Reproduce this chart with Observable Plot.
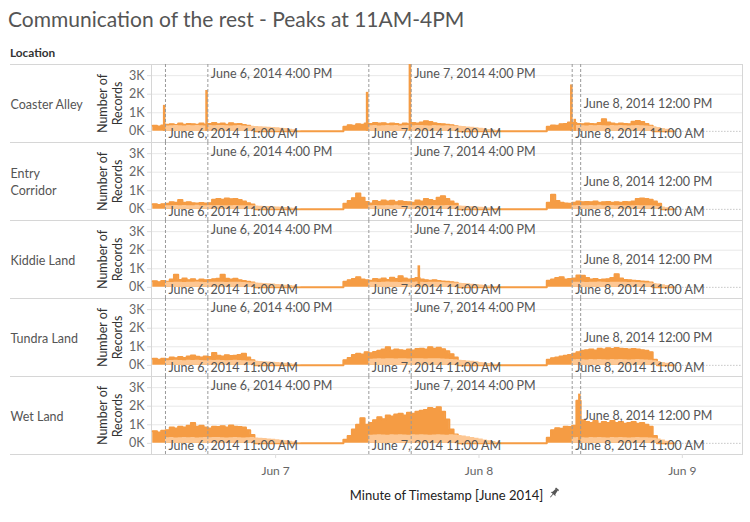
<!DOCTYPE html>
<html><head><meta charset="utf-8">
<script src="https://cdn.jsdelivr.net/npm/d3@7"></script>
<script src="https://cdn.jsdelivr.net/npm/@observablehq/plot@0.6"></script>
<style>
body{margin:0;background:#fff;font-family:Lato,"Open Sans",sans-serif;}
#wrap{position:relative;width:750px;height:522px;overflow:hidden;background:#fff}
.title{position:absolute;left:8px;top:8px;font-size:21px;line-height:1;color:#555;white-space:nowrap}
.hdr{position:absolute;left:10px;top:47px;font-size:11.8px;line-height:1;font-weight:bold;color:#333}
#chart{position:absolute;left:0;top:62px}
.xt{position:absolute;left:151px;width:591px;top:489px;text-align:center;font-size:13px;line-height:1;color:#222}
.xt span{position:relative}
.pin{position:absolute;right:-17px;top:0px}
</style></head>
<body><div id="wrap">
<div class="title">Communication of the rest - Peaks at 11AM-4PM</div>
<div class="hdr">Location</div>
<div id="chart"></div>
<div class="xt"><span>Minute of Timestamp [June 2014]<svg class="pin" width="12" height="12" viewBox="0 0 12 12"><g transform="rotate(40 6 6)" fill="#555"><rect x="4" y="0.5" width="4" height="1.5"/><path d="M4.6 2 L7.4 2 L7.8 6 L9.2 7.4 L2.8 7.4 L4.2 6 Z"/><rect x="5.6" y="7.4" width="0.8" height="4.3"/></g></svg></span></div>
</div>
<script>
const locations = ["Coaster Alley","Entry Corridor","Kiddie Land","Tundra Land","Wet Land"];
const locationLabels = ["Coaster Alley","Entry\nCorridor","Kiddie Land","Tundra Land","Wet Land"];

// half-hour grid: hours after June 6, 2014 00:00 (9:30 on June 6 to 23:00 on June 8)
const hours = d3.range(9.5, 71.01, 0.5);

// Number of records per half hour (dark series) and the paler band series
const darkCoaster = [
300,260,320,350,380,340,420,360,400,380,350,420,360,400,450,380,420,360,440,380,400,340,300,240,
0,0,0,0,0,0,0,0,0,0,0,0,0,0,0,0,0,0,0,0,0,
250,330,300,380,350,420,400,450,420,440,380,420,400,360,420,380,450,420,480,550,500,430,400,380,360,330,280,
0,0,0,0,0,0,0,0,0,0,0,0,0,0,0,0,0,0,0,0,0,
250,320,300,380,400,480,450,400,380,420,400,380,450,650,480,420,380,420,400,380,520,560,500,400,300,
0,0,0,0,0,0];
const lightCoaster = [
0,0,0,290,300,310,300,290,310,300,320,300,290,310,300,320,310,300,290,300,310,290,280,270,
260,250,240,225,210,190,170,150,120,90,50,10,0,0,0,0,0,0,0,0,0,
0,0,0,0,0,0,300,310,290,300,320,300,310,290,300,310,300,320,310,300,290,310,300,290,300,290,280,
270,255,240,220,195,170,140,105,70,35,0,0,0,0,0,0,0,0,0,0,0,
0,0,0,0,0,0,300,310,300,290,310,300,320,300,290,310,300,310,300,290,300,310,300,290,280,
250,210,160,110,60,10];

const darkEntry = [
270,240,280,300,380,350,500,360,380,330,320,340,320,330,520,560,520,580,540,560,500,420,330,260,
0,0,0,0,0,0,0,0,0,0,0,0,0,0,0,0,0,0,0,0,0,
300,450,600,850,620,400,320,450,400,480,420,460,380,430,400,380,360,480,420,560,500,450,620,700,560,420,300,
0,0,0,0,0,0,0,0,0,0,0,0,0,0,0,0,0,0,0,0,0,
350,780,450,350,320,300,350,420,380,400,380,420,360,380,400,350,380,360,400,380,420,560,580,560,520,
420,300,0,0,0,0];
const lightEntry = [
0,0,0,200,190,210,200,210,190,200,220,200,190,210,200,210,200,190,200,210,200,190,200,190,
180,170,160,150,140,125,110,95,75,55,30,5,0,0,0,0,0,0,0,0,0,
0,0,0,0,0,0,200,210,200,190,210,200,220,200,190,210,200,210,200,190,200,210,200,190,210,200,190,
180,170,160,145,130,110,90,70,45,20,0,0,0,0,0,0,0,0,0,0,0,
0,0,0,0,0,0,200,210,200,190,210,200,220,200,190,210,200,210,200,190,200,210,200,200,190,
180,160,130,90,50,10];

const darkKiddie = [
330,280,340,300,420,680,400,480,380,440,360,420,380,400,440,460,680,460,420,460,380,340,300,260,
0,0,0,0,0,0,0,0,0,0,0,0,0,0,0,0,0,0,0,0,0,
300,380,450,550,420,380,350,450,420,480,400,520,450,600,480,420,450,500,420,380,360,380,340,320,300,280,250,
0,0,0,0,0,0,0,0,0,0,0,0,0,0,0,0,0,0,0,0,0,
350,420,500,550,420,450,480,640,620,500,420,450,400,420,440,500,700,480,400,380,350,340,320,300,260,
0,0,0,0,0,0];
const lightKiddie = [
0,0,0,270,260,280,270,260,280,270,290,270,260,280,270,280,270,260,270,280,270,260,250,240,
230,220,210,195,180,160,140,120,95,70,40,10,0,0,0,0,0,0,0,0,0,
0,0,0,0,0,0,270,280,260,270,290,270,280,260,270,280,270,290,270,260,270,280,270,260,250,240,230,
220,205,190,170,150,125,100,75,45,15,0,0,0,0,0,0,0,0,0,0,0,
0,0,0,0,0,0,270,280,270,260,280,270,290,270,260,280,270,280,270,260,270,260,250,240,230,
210,180,140,100,55,10];

const darkTundra = [
360,300,350,330,420,380,450,400,480,530,460,420,480,450,660,520,480,540,500,520,560,620,420,280,
0,0,0,0,0,0,0,0,0,0,0,0,0,0,0,0,0,0,0,0,0,
280,400,560,620,580,700,650,720,780,850,980,800,860,820,780,850,800,880,900,850,980,900,950,870,760,600,420,
0,0,0,0,0,0,0,0,0,0,0,0,0,0,0,0,0,0,0,0,0,
300,380,420,480,520,560,620,700,780,820,860,800,900,850,920,880,940,900,880,850,880,850,820,780,700,
300,0,0,0,0,0];
const lightTundra = [
0,0,0,250,260,270,260,250,270,260,280,260,250,270,260,270,260,250,260,270,260,250,240,230,
220,210,200,185,170,150,130,110,90,65,35,10,0,0,0,0,0,0,0,0,0,
0,0,0,0,0,0,330,340,350,340,360,350,340,360,350,340,350,360,350,340,350,360,350,340,330,320,300,
280,260,240,215,190,160,130,100,65,30,0,0,0,0,0,0,0,0,0,0,0,
0,0,0,0,0,0,300,310,300,290,310,300,320,300,290,310,300,310,300,290,300,310,300,290,280,
250,210,160,110,60,10];

const darkWet = [
650,580,680,700,850,800,900,850,950,1100,900,950,850,800,900,880,920,850,960,900,880,850,700,450,
0,0,0,0,0,0,0,0,0,0,0,0,0,0,0,0,0,0,0,0,0,
200,400,750,1000,1350,1000,1100,1250,1400,1300,1500,1450,1550,1600,1500,1650,1600,1700,1750,1800,1900,1850,1950,1700,1280,750,480,
0,0,0,0,0,0,0,0,0,0,0,0,0,0,0,0,0,0,0,0,0,
300,700,820,780,900,880,950,2300,1250,1150,1100,1200,1050,1150,1100,1200,1100,1150,1050,1100,1150,1050,1100,1000,900,
400,0,0,0,0,0];
const lightWet = [
0,0,0,300,310,290,300,320,300,310,290,300,310,300,320,310,300,290,300,310,300,290,300,310,
290,275,260,240,220,195,170,140,110,75,40,10,0,0,0,0,0,0,0,0,0,
0,0,0,0,0,0,440,450,460,450,440,460,450,470,450,440,460,450,460,450,440,450,460,450,440,460,450,
420,390,350,310,270,230,185,140,95,50,10,0,0,0,0,0,0,0,0,0,0,
0,0,0,0,0,0,300,310,300,290,310,300,320,300,290,310,300,310,300,290,300,310,300,300,290,
270,230,180,120,60,10];

// short peaks (a minute or two wide)
const spikeLocations = ["Coaster Alley","Coaster Alley","Coaster Alley","Coaster Alley","Coaster Alley","Coaster Alley","Kiddie Land","Wet Land"];
const spikeHours = [10.85, 15.85, 34.8, 39.85, 58.9, 59.3, 40.9, 59.85];
const spikeValues = [1400, 2200, 2100, 3800, 2500, 650, 1160, 2650];

// reference lines
const refHours = [11, 16, 35, 40, 59, 60];
const refLabels = ["June 6, 2014 11:00 AM","June 6, 2014 4:00 PM","June 7, 2014 11:00 AM","June 7, 2014 4:00 PM","June 8, 2014 11:00 AM","June 8, 2014 12:00 PM"];

const yTicks = [0, 1000, 2000, 3000];
const yTickLabels = ["0K","1K","2K","3K"];
const xTickHours = [24, 48, 72];
const xTickLabels = ["Jun 7","Jun 8","Jun 9"];

const DARK = "#f59c44", LIGHT = "#fdc793";
const t0 = Date.UTC(2014, 5, 6);
const toDate = h => new Date(t0 + h * 3600e3);
const yDomain = [-600, 3600];
const xDomain = [toDate(9.35), toDate(79.1)];

const series = [
  ["Coaster Alley", darkCoaster, lightCoaster],
  ["Entry Corridor", darkEntry, lightEntry],
  ["Kiddie Land", darkKiddie, lightKiddie],
  ["Tundra Land", darkTundra, lightTundra],
  ["Wet Land", darkWet, lightWet]
];
const rows = [];
for (const [loc, dark, light] of series) {
  hours.forEach((h, i) => rows.push({loc, t: toDate(h), dark: dark[i], light: light[i]}));
}
const spikes = spikeHours.map((h, i) => ({loc: spikeLocations[i], t: toDate(h), v: spikeValues[i]}));
const refs = refHours.map((h, i) => ({t: toDate(h), label: refLabels[i], hour: h % 24}));
const dataEnd = toDate(d3.max(hours));
const xTicks = xTickHours.map(toDate);

const plot = Plot.plot({
  width: 750, height: 423,
  marginLeft: 151, marginRight: 8, marginTop: 0, marginBottom: 30,
  style: {fontFamily: "Lato, sans-serif", fontSize: "12px", color: "#666", background: "transparent", overflow: "visible"},
  x: {type: "utc", domain: xDomain},
  y: {domain: yDomain},
  fy: {domain: locations, padding: 0, axis: null},
  marks: [
    Plot.gridY(yTicks.filter(v => v > 0), {stroke: "#e8e8e8", strokeOpacity: 1}),
    Plot.frame({stroke: "#d6d6d6"}),
    Plot.ruleY([yDomain[0]], {insetLeft: -141, stroke: "#d6d6d6"}),
    Plot.ruleY([yDomain[1]], {insetLeft: -141, stroke: "#d6d6d6"}),
    Plot.ruleY([0], {x1: dataEnd, x2: xDomain[1], stroke: "#aaa", strokeDasharray: "1,2"}),
    Plot.areaY(rows, {x: "t", y1: 0, y2: "dark", fy: "loc", curve: "step-after", fill: DARK}),
    Plot.lineY(rows, {x: "t", y: "dark", fy: "loc", curve: "step-after", stroke: DARK, strokeWidth: 2}),
    Plot.areaY(rows, {x: "t", y1: 0, y2: "light", fy: "loc", curve: "step-after", fill: LIGHT}),
    Plot.ruleX(spikes, {x: "t", y1: 0, y2: "v", fy: "loc", stroke: DARK, strokeWidth: 2.6, clip: true}),
    Plot.ruleX(refs, {x: "t", stroke: "#9a9a9a", strokeDasharray: "3,2"}),
    Plot.text(refs, {filter: d => d.hour === 16, x: "t", text: "label", frameAnchor: "top", lineAnchor: "middle", dy: 9.5, dx: 3, textAnchor: "start", fill: "#555", fontSize: 12.5}),
    Plot.text(refs, {filter: d => d.hour === 11, x: "t", text: "label", frameAnchor: "bottom", lineAnchor: "middle", dy: -8.5, dx: 3, textAnchor: "start", fill: "#555", fontSize: 12.5}),
    Plot.text(refs, {filter: d => d.hour === 12, x: "t", text: "label", frameAnchor: "middle", lineAnchor: "middle", dy: 0, dx: 3, textAnchor: "start", fill: "#555", fontSize: 12.5}),
    Plot.text(locations, {fy: d => d, text: (d, i) => locationLabels[i], frameAnchor: "left", dx: -141, textAnchor: "start", fill: "#555", fontSize: 12.5, lineHeight: 1.35}),
    Plot.text(locations, {fy: d => d, text: () => "Number of\nRecords", frameAnchor: "left", dx: -42, rotate: -90, textAnchor: "middle", lineAnchor: "middle", fill: "#333", fontSize: 12.5, lineHeight: 1.2}),
    Plot.axisY(yTicks, {tickFormat: d => yTickLabels[yTicks.indexOf(d)], tickSize: 4, tickPadding: 3, stroke: "#ddd", fill: "#666", fontSize: 12.5, label: null}),
    Plot.axisX(xTicks, {tickFormat: d => xTickLabels[xTicks.findIndex(v => +v === +d)], tickSize: 4, tickPadding: 8, stroke: "#ddd", fill: "#666", fontSize: 12, label: null})
  ]
});
document.getElementById("chart").appendChild(plot);
</script>
</body></html>
